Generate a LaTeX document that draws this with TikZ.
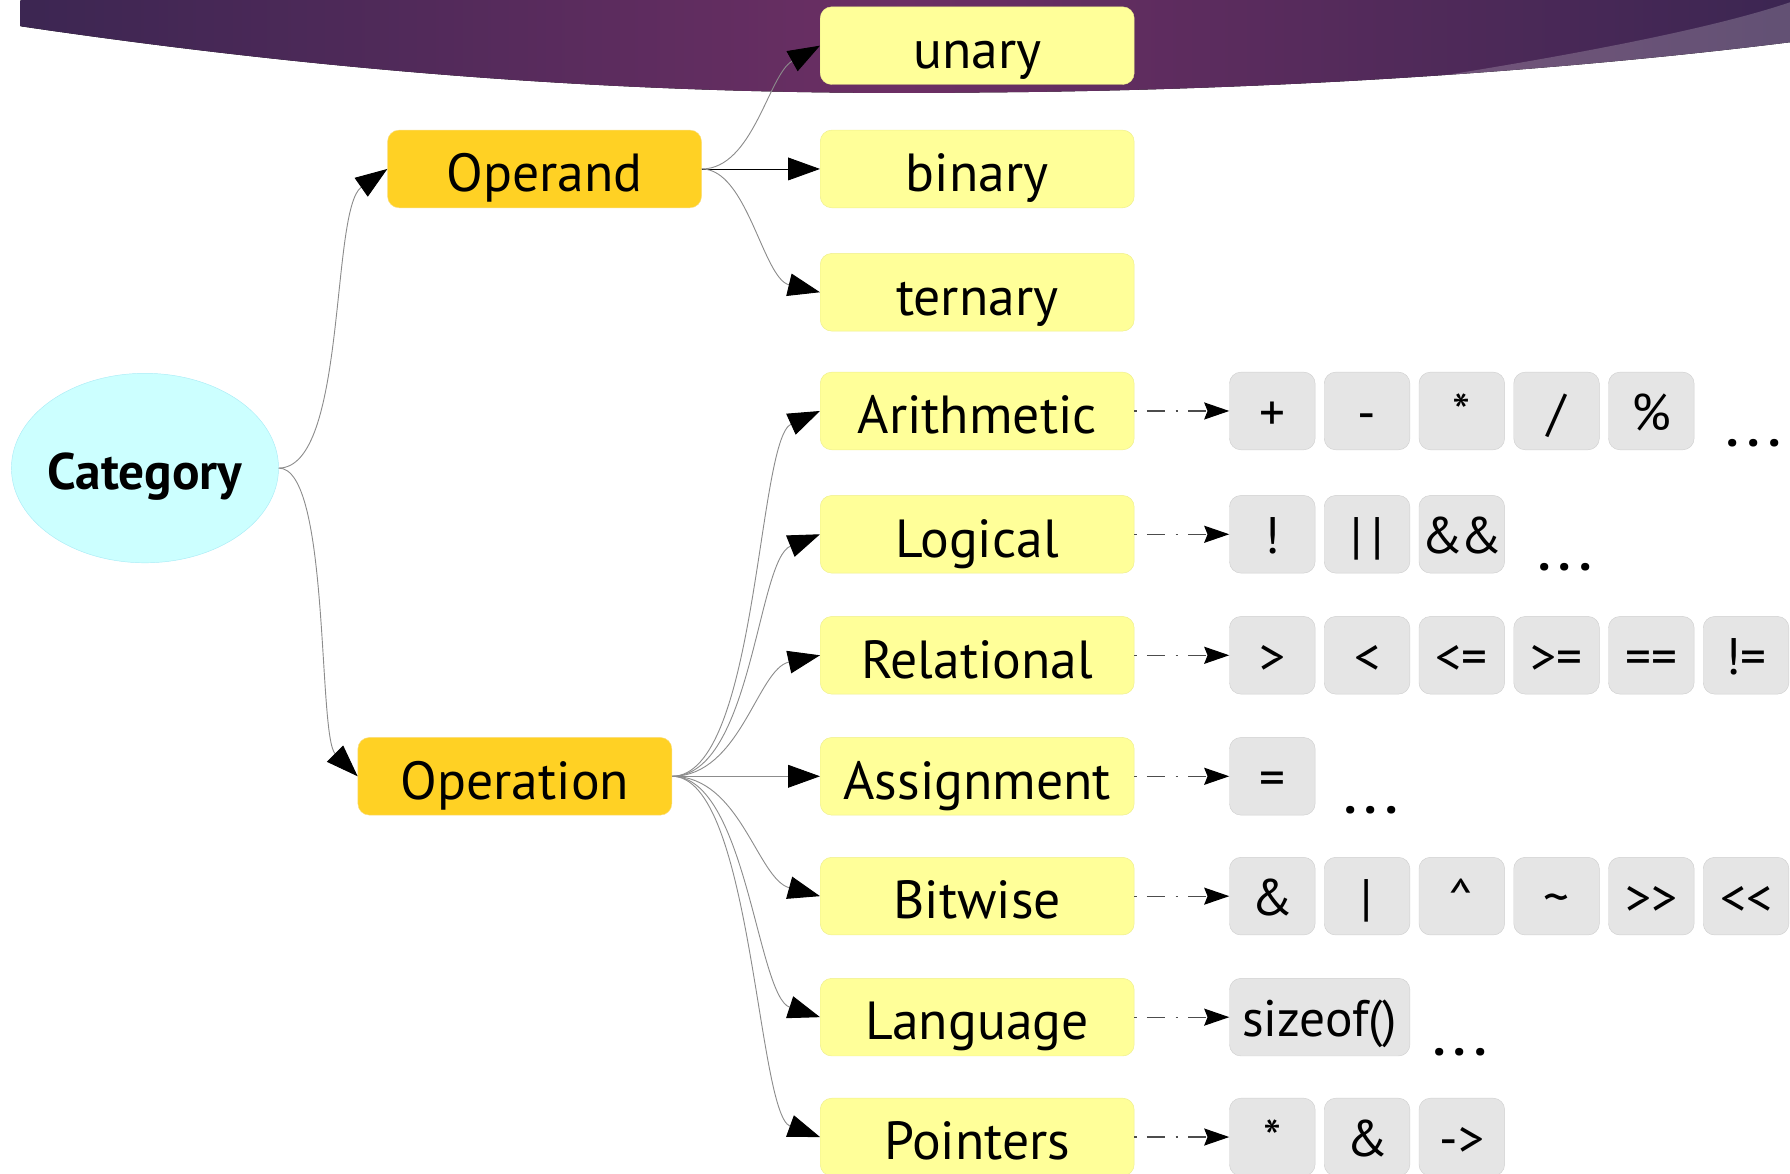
\documentclass[tikz,border=0pt]{standalone}
\usepackage{fontspec}
\setmainfont{PT Sans}
\usetikzlibrary{arrows.meta,shapes.geometric,positioning}

\definecolor{catfill}{RGB}{204,255,255}
\definecolor{catline}{RGB}{170,236,246}
\definecolor{groupfill}{RGB}{255,209,36}
\definecolor{groupline}{RGB}{250,222,130}
\definecolor{kindfill}{RGB}{255,255,153}
\definecolor{kindline}{RGB}{238,238,140}
\definecolor{opfill}{RGB}{229,229,229}
\definecolor{opline}{RGB}{208,208,208}
\definecolor{bannerdark}{RGB}{60,38,82}
\definecolor{bannermid}{RGB}{108,47,100}

\begin{document}
\begin{tikzpicture}
[x=1pt,y=-1pt,
category/.style={ellipse,draw=catline,fill=catfill,inner sep=0pt,minimum width=234pt,minimum height=166pt,text height=37pt,text depth=0pt,font=\fontsize{45}{52}\selectfont\bfseries},
group/.style={rectangle,rounded corners=10pt,draw=groupline,fill=groupfill,minimum width=275pt,minimum height=68pt,inner sep=0pt,text height=40pt,text depth=0pt,font=\fontsize{47}{54}\selectfont},
kind/.style={group,draw=kindline,fill=kindfill},
op/.style={rectangle,rounded corners=10pt,draw=opline,fill=opfill,minimum width=75pt,minimum height=68pt,inner sep=0pt,text height=34pt,text depth=0pt,font=\fontsize{45}{52}\selectfont},
more/.style={anchor=base,inner sep=0pt,font=\fontsize{44}{50}\selectfont\bfseries},
link/.style={draw=black!45,line width=0.8pt,-{Triangle[length=28pt,width=20pt,color=black]}},
example/.style={draw=black!70,line width=1pt,dash pattern=on 2pt off 9pt on 16pt off 9pt,-{Stealth[length=22pt,width=15pt,inset=3pt,color=black]}}]
\useasboundingbox (0,0) rectangle (1568,1028);

% banner
\fill[left color=bannerdark,right color=bannerdark,middle color=bannermid]
  (18,0) -- (18,23) .. controls (350,72) and (620,84) .. (860,81)
  .. controls (1150,79) and (1400,58) .. (1568,37) -- (1568,0) -- cycle;
\begin{scope}
\clip (18,0) -- (18,23) .. controls (350,72) and (620,84) .. (860,81)
  .. controls (1150,79) and (1400,58) .. (1568,37) -- (1568,0) -- cycle;
\fill[white,opacity=.2] (1240,70) .. controls (1380,48) and (1500,25) .. (1568,2) -- (1600,0) -- (1600,100) -- cycle;
\end{scope}

% tree
\node (category) at (127,410) [category] {\makebox[140pt]{Category}};
\node (operand) at (477,148) [group] {Operand};
\node (operation) at (451,680) [group] {Operation};

\node (unary) at (856,40) [kind] {unary};
\node (binary) at (856,148) [kind] {binary};
\node (ternary) at (856,256) [kind] {ternary};
\node (arithmetic) at (856,360) [kind] {Arithmetic};
\node (logical) at (856,468) [kind] {Logical};
\node (relational) at (856,574) [kind] {Relational};
\node (assignment) at (856,680) [kind] {Assignment};
\node (bitwise) at (856,785) [kind] {Bitwise};
\node (language) at (856,891) [kind] {Language};
\node (pointers) at (856,996) [kind] {Pointers};

\draw[link] (category.east) .. controls +(60,0) and +(-50,35) .. (operand.west);
\draw[link] (category.east) .. controls +(45,0) and +(-35,-35) .. (operation.west);

\draw[link] (operand.east) .. controls +(45,0) and +(-45,25) .. (unary.west);
\draw[link,draw=black] (operand) -- (binary);
\draw[link] (operand.east) .. controls +(40,0) and +(-50,-12) .. (ternary.west);

\draw[link] (operation.east) .. controls +(75,0) and +(-55,25) .. (arithmetic.west);
\draw[link] (operation.east) .. controls +(70,0) and +(-55,22) .. (logical.west);
\draw[link] (operation.east) .. controls +(60,0) and +(-55,12) .. (relational.west);
\draw[link] (operation) -- (assignment);
\draw[link] (operation.east) .. controls +(60,0) and +(-55,-15) .. (bitwise.west);
\draw[link] (operation.east) .. controls +(65,0) and +(-55,-18) .. (language.west);
\draw[link] (operation.east) .. controls +(70,0) and +(-55,-20) .. (pointers.west);

% operators
\node (arplus) at (1114.5,360) [op] {+};
\node (arminus) at (1197.5,360) [op] {-};
\node (artimes) at (1280.5,360) [op] {*};
\node (ardiv) at (1363.5,360) [op] {/};
\node (armod) at (1446.5,360) [op] {\%};
\node (armore) at (1536,391) [more] {.\,.\,.};

\node (lonot) at (1114.5,468) [op] {!};
\node (loor) at (1197.5,468) [op] {|\,|};
\node (loand) at (1280.5,468) [op] {\&\kern-3pt\&};
\node (lomore) at (1371,500) [more] {.\,.\,.};

\node (regt) at (1114.5,574) [op] {>};
\node (relt) at (1197.5,574) [op] {<};
\node (rele) at (1280.5,574) [op] {<=};
\node (rege) at (1363.5,574) [op] {>=};
\node (reeq) at (1446.5,574) [op] {==};
\node (rene) at (1529.5,574) [op] {!=};

\node (asset) at (1114.5,680) [op] {=};
\node (asmore) at (1201,713) [more] {.\,.\,.};

\node (biand) at (1114.5,785) [op] {\&};
\node (bior) at (1197.5,785) [op] {|};
\node (bixor) at (1280.5,785) [op] {\textasciicircum};
\node (binot) at (1363.5,785) [op] {\textasciitilde};
\node (bishr) at (1446.5,785) [op] {>{}>};
\node (bishl) at (1529.5,785) [op] {<{}<};

\node (lasize) at (1156,891) [op,minimum width=158pt] {sizeof()};
\node (lamore) at (1279,925) [more] {.\,.\,.};

\node (podref) at (1114.5,996) [op] {*};
\node (poaddr) at (1197.5,996) [op] {\&};
\node (poarrow) at (1280.5,996) [op] {->};

\draw[example] (arithmetic) -- (arplus);
\draw[example] (logical) -- (lonot);
\draw[example] (relational) -- (regt);
\draw[example] (assignment) -- (asset);
\draw[example] (bitwise) -- (biand);
\draw[example] (language) -- (lasize);
\draw[example] (pointers) -- (podref);
\end{tikzpicture}
\end{document}
